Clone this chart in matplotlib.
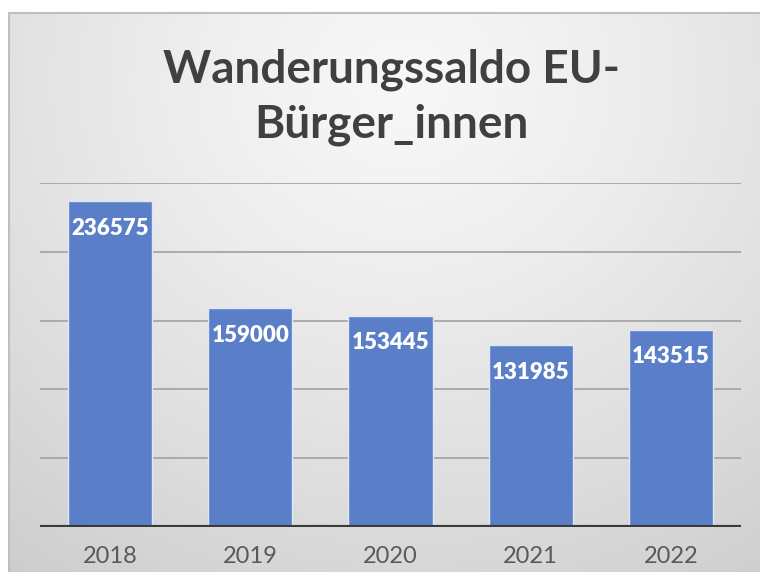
import numpy as np
import matplotlib.pyplot as plt

plt.rc('font', family=['Lato', 'DejaVu Sans'])

years = ['2018', '2019', '2020', '2021', '2022']
saldo = [236575, 159000, 153445, 131985, 143515]
yticks = [0, 50000, 100000, 150000, 200000, 250000]
title = 'Wanderungssaldo EU-\nBürger_innen'

W, H = 760, 572
fig = plt.figure(figsize=(W / 100, H / 100), dpi=100)

# chart area with radial grey gradient (Excel style), runs off right/bottom
x0, y0 = 9, 13
bg = fig.add_axes((x0 / W, -0.01, (W - x0) / W + 0.01, (H - y0) / H + 0.01))
gx, gy = np.meshgrid(np.linspace(0, 1, 300), np.linspace(0, 1, 300))
r = np.sqrt(((gx - 0.52) / 0.9) ** 2 + ((gy - 0.12) / 1.1) ** 2)
shade = 0.97 - 0.17 * np.clip(r, 0, 1) ** 1.3
bg.imshow(np.dstack([shade] * 3), extent=(0, 1, 0, 1), aspect='auto', origin='upper')
bg.set_xlim(0, 1)
bg.set_ylim(0, 1)
bg.set_xticks([])
bg.set_yticks([])
for s in bg.spines.values():
    s.set_color('#bfbfbf')
    s.set_linewidth(1.5)

# plot area
left, right = 40, 741
top, base = 183, 527
ax = fig.add_axes((left / W, (H - base) / H, (right - left) / W, (base - top) / H))
ax.patch.set_visible(False)
xs = np.arange(len(years))
ax.bar(xs, saldo, width=0.6, color='#5a7fc8', edgecolor='#dce8f8', linewidth=1.0, zorder=2)
ax.set_xlim(-0.5, len(years) - 0.5)
ax.set_ylim(0, 250000)
for v in yticks[1:]:
    ax.axhline(v, color='#a6a6a6', linewidth=1.3, zorder=1)
ax.axhline(0, color='#3a3a3a', linewidth=3, zorder=3)
for s in ax.spines.values():
    s.set_visible(False)
ax.set_yticks([])
ax.set_xticks(xs)
ax.set_xticklabels(years, fontsize=17, color='#595959')
ax.tick_params(axis='x', length=0, pad=14)

for x, v in zip(xs, saldo):
    ax.annotate(str(v), (x, v), xytext=(0, -19.5), textcoords='offset points',
                ha='center', va='center', color='white', fontsize=16,
                fontweight='heavy', zorder=4, annotation_clip=False)

fig.text(391 / W, 1 - 97 / H, title, ha='center', va='center', fontsize=33,
         fontweight='bold', color='#404040', linespacing=1.38)

fig.savefig('out.png', dpi=100)
